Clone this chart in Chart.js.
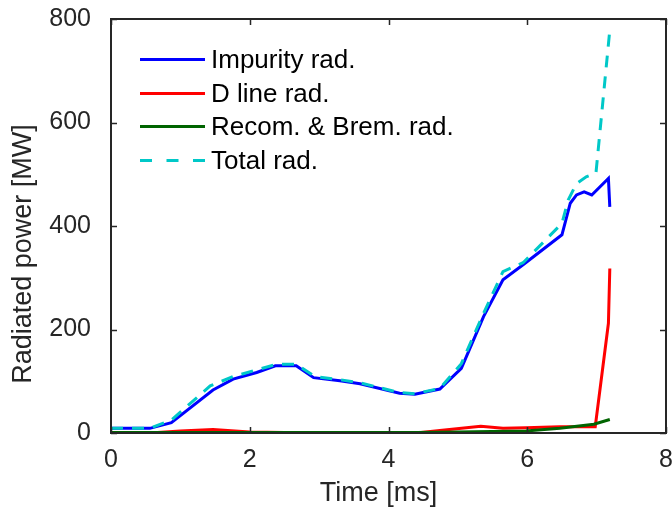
<!DOCTYPE html>
<html>
<head>
<meta charset="utf-8">
<script src="https://cdn.jsdelivr.net/npm/chart.js@4/dist/chart.umd.min.js"></script>
<style>
  html, body { margin: 0; padding: 0; background: #ffffff; }
  #wrap { width: 672px; height: 513px; }
</style>
</head>
<body>
<div id="wrap"><canvas id="c" width="672" height="513"></canvas></div>
<script>
// ---- data ----
const xTicks = [0, 2, 4, 6, 8];
const yTicks = [0, 200, 400, 600, 800];

const impurityTime = [0, 0.56, 0.87, 1.47, 1.76, 2.1, 2.37, 2.67, 2.92, 3.3, 3.59, 4.16, 4.38, 4.74, 5.05, 5.37, 5.65, 5.94, 6.5, 6.62, 6.71, 6.82, 6.93, 7.17, 7.19];
const impurityRad  = [9, 9, 20, 83, 104, 117, 130, 130, 107, 101, 95, 77, 75, 85, 125, 225, 296, 325, 383, 444, 460, 466, 460, 492, 437];

const dLineTime = [0, 0.56, 1.0, 1.47, 2.0, 3.0, 4.4, 4.74, 5.33, 5.65, 5.98, 6.47, 6.98, 7.17, 7.19];
const dLineRad  = [0, 0, 4, 7, 2, 0, 0, 5, 13, 9, 10, 12, 12, 212, 318];

const recomTime = [0, 4.4, 5.0, 5.98, 6.47, 6.96, 7.19];
const recomRad  = [1, 1, 2, 4, 9, 17, 26];

const totalTime = [0, 0.56, 0.87, 1.43, 1.76, 2.1, 2.39, 2.67, 2.94, 3.3, 3.59, 4.16, 4.38, 4.74, 5.05, 5.37, 5.65, 5.94, 6.5, 6.59, 6.71, 6.85, 6.99, 7.19];
const totalRad  = [9, 9, 25, 91, 109, 122, 133, 133, 109, 103, 97, 78, 76, 86, 134, 231, 312, 329, 405, 450, 482, 495, 502, 779];

const seriesLabels = ['Impurity rad.', 'D line rad.', 'Recom. & Brem. rad.', 'Total rad.'];
const xTitle = 'Time [ms]';
const yTitle = 'Radiated power [MW]';

function pts(t, v) { return t.map((x, i) => ({ x: x, y: v[i] })); }

const AXIS_COLOR = '#262626';
const FONT = "'Liberation Sans', Arial, Helvetica, sans-serif";

// frame with inward ticks (MATLAB box style) + axis titles
const framePlugin = {
  id: 'frame',
  afterDraw(chart) {
    const ctx = chart.ctx, a = chart.chartArea;
    const xs = chart.scales.x, ys = chart.scales.y;
    const tl = 6;
    ctx.save();
    ctx.strokeStyle = AXIS_COLOR;
    ctx.lineWidth = 2;
    ctx.strokeRect(a.left, a.top, a.right - a.left, a.bottom - a.top);
    ctx.lineWidth = 1.5;
    ctx.beginPath();
    xs.ticks.forEach(t => {
      const px = Math.round(xs.getPixelForValue(t.value)) + 0.5;
      ctx.moveTo(px, a.bottom); ctx.lineTo(px, a.bottom - tl);
      ctx.moveTo(px, a.top); ctx.lineTo(px, a.top + tl);
    });
    ys.ticks.forEach(t => {
      const py = Math.round(ys.getPixelForValue(t.value)) + 0.5;
      ctx.moveTo(a.left, py); ctx.lineTo(a.left + tl, py);
      ctx.moveTo(a.right, py); ctx.lineTo(a.right - tl, py);
    });
    ctx.stroke();

    // axis titles
    ctx.fillStyle = AXIS_COLOR;
    ctx.font = '27px ' + FONT;
    ctx.textAlign = 'center';
    ctx.textBaseline = 'middle';
    ctx.fillText(xTitle, (a.left + a.right) / 2 - 10, 494);
    ctx.translate(24, (a.top + a.bottom) / 2 + 28);
    ctx.rotate(-Math.PI / 2);
    ctx.fillText(yTitle, 0, 0);
    ctx.restore();
  }
};

// legend drawn inside the axes, top-left
const legendPlugin = {
  id: 'inLegend',
  afterDraw(chart) {
    const ctx = chart.ctx;
    const order = [0, 1, 2, 3];
    const x0 = 140, x1 = 205, tx = 211, y0 = 59, dy = 33.5;
    ctx.save();
    ctx.font = '26px ' + FONT;
    ctx.textBaseline = 'middle';
    ctx.textAlign = 'left';
    order.forEach((i, k) => {
      const ds = chart.data.datasets[i];
      const y = Math.round(y0 + k * dy) + 0.5;
      ctx.strokeStyle = ds.borderColor;
      ctx.lineWidth = ds.borderWidth;
      ctx.setLineDash(ds.borderDash ? [12, 14.5] : []);
      ctx.beginPath();
      ctx.moveTo(x0, y); ctx.lineTo(x1, y);
      ctx.stroke();
      ctx.setLineDash([]);
      ctx.fillStyle = '#000000';
      ctx.fillText(ds.label, tx, y + 1);
    });
    ctx.restore();
  }
};

const common = { fill: false, pointRadius: 0, tension: 0, borderWidth: 3 };

new Chart(document.getElementById('c'), {
  type: 'line',
  data: {
    datasets: [
      Object.assign({ label: seriesLabels[0], data: pts(impurityTime, impurityRad), borderColor: '#0000FF', order: 4 }, common),
      Object.assign({ label: seriesLabels[1], data: pts(dLineTime, dLineRad), borderColor: '#FF0000', order: 3 }, common),
      Object.assign({ label: seriesLabels[2], data: pts(recomTime, recomRad), borderColor: '#006400', order: 2 }, common),
      Object.assign({ label: seriesLabels[3], data: pts(totalTime, totalRad), borderColor: '#00C8C8', borderDash: [12, 9], order: 1 }, common)
    ]
  },
  options: {
    responsive: false,
    animation: false,
    devicePixelRatio: 1,
    layout: { padding: { top: 19, right: 6, left: 0, bottom: 0 } },
    plugins: { legend: { display: false }, tooltip: { enabled: false } },
    scales: {
      x: {
        type: 'linear',
        min: 0, max: 8,
        afterBuildTicks(scale) { scale.ticks = xTicks.map(v => ({ value: v })); },
        ticks: { color: AXIS_COLOR, font: { family: FONT, size: 25 }, padding: 12, maxRotation: 0 },
        grid: { display: false, drawTicks: false },
        border: { display: false },
        title: { display: false },
        afterFit(scale) { scale.height = 80; scale.paddingLeft = 0; scale.paddingRight = 0; }
      },
      y: {
        type: 'linear',
        min: 0, max: 800,
        afterBuildTicks(scale) { scale.ticks = yTicks.map(v => ({ value: v })); },
        ticks: { color: AXIS_COLOR, font: { family: FONT, size: 25 }, padding: 20 },
        grid: { display: false, drawTicks: false },
        border: { display: false },
        title: { display: false },
        afterFit(scale) { scale.width = 111; scale.paddingTop = 0; scale.paddingBottom = 0; }
      }
    }
  },
  plugins: [framePlugin, legendPlugin]
});
</script>
</body>
</html>
